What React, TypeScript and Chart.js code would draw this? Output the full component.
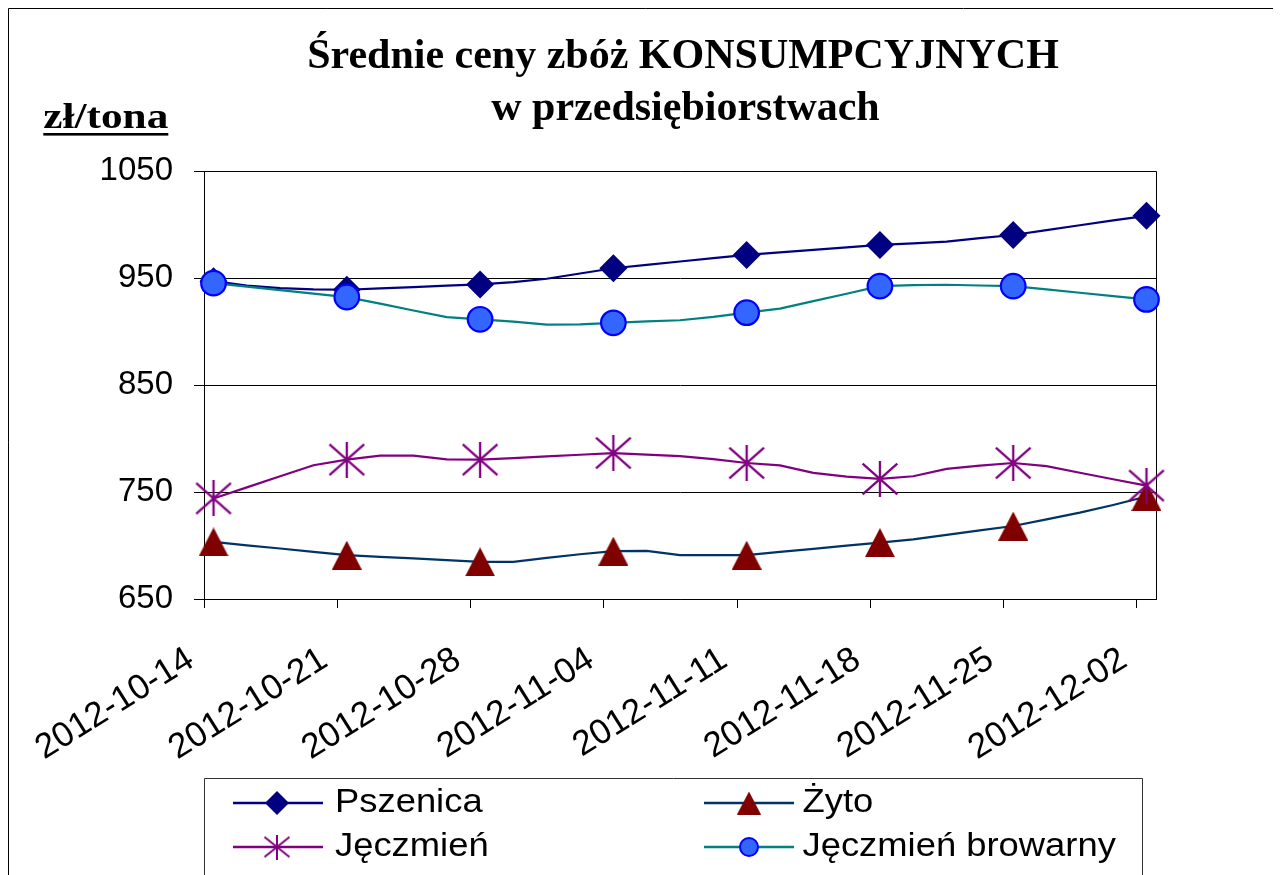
import { useEffect, useRef } from "react";
import { Chart, registerables } from "chart.js";

Chart.register(...registerables);

// ---------- data ----------
const tickDays = [0, 7, 14, 21, 28, 35, 42, 49];
const tickLabels = [
  "2012-10-14",
  "2012-10-21",
  "2012-10-28",
  "2012-11-04",
  "2012-11-11",
  "2012-11-18",
  "2012-11-25",
  "2012-12-02",
];
const yTickValues = [650, 750, 850, 950, 1050];
// line sampled four times per week (every 1.75 days); weekly points carry markers
const stepDays = 1.75;
const markerEvery = 4;

const seriesNames = ["Pszenica", "Żyto", "Jęczmień", "Jęczmień browarny"];
const pszenica = [
  947, 943, 940.5, 939.3, 939, 940.3, 941.5, 942.8, 944, 946.1, 949.3, 954.2, 959.1, 962.2, 965.4,
  968.5, 971.6, 973.9, 976.3, 978.6, 980.9, 982.4, 984, 987.2, 990.2, 994.7, 999.3, 1003.9, 1008.1,
];
const zyto = [
  703.3, 700.2, 697.2, 694.1, 691, 689.4, 687.9, 686.3, 684.7, 684.7, 688.5, 691.8, 694.7, 694.9, 691,
  691, 691, 694, 696.9, 699.9, 702.7, 705.8, 710, 714.2, 718.2, 724.4, 730.7, 737.9, 745.8,
];
const jeczmien = [
  744, 754.3, 764.7, 775, 780.2, 784, 784, 780.5, 780.2, 781.7, 783.3, 784.8, 786.4, 784.9, 783.5,
  780.7, 777.1, 774.8, 767.9, 764.4, 762.2, 764.7, 771.6, 774.7, 777.1, 774.2, 768, 761.9, 756,
];
const browarny = [
  945.2, 941.9, 938.7, 935.4, 932.2, 926.1, 919.6, 913.5, 911.4, 909.3, 906.5, 906.7, 908.1, 909.5,
  910.5, 913.7, 917.6, 921.4, 928.4, 935.3, 942.4, 943.3, 943.7, 943, 942.4, 939.3, 936.2, 933.1, 930,
];
const titleLines = ["Średnie ceny zbóż KONSUMPCYJNYCH", "w przedsiębiorstwach"];
const unitLabel = "zł/tona";

// ---------- layout / style ----------
const W = 1273;
const H = 867;
const PAD_TOP = 163;
const PLOT_H = 428;
const Y_AXIS_W = 196;
const PAD_RIGHT = 125;
const SANS = "Arial, 'Liberation Sans', sans-serif";
const SERIF = "'Times New Roman', 'Liberation Serif', serif";
const LEGEND_STRETCH = 1.07;

const C_PSZ = "#000080";
const C_ZYTO_LINE = "#003366";
const C_ZYTO_MARK = "#800000";
const C_JECZ = "#800080";
const C_BROW_LINE = "#008080";
const C_BROW_FILL = "#3366FF";
const C_BROW_BORDER = "#0000FF";

function makeTriangle(w: number, h: number, color: string) {
  const c = document.createElement("canvas");
  c.width = w;
  c.height = h;
  const g = c.getContext("2d")!;
  g.fillStyle = color;
  g.beginPath();
  g.moveTo(w / 2, 0);
  g.lineTo(w, h);
  g.lineTo(0, h);
  g.closePath();
  g.fill();
  return c;
}

function makeStar(w: number, h: number, color: string, lw: number) {
  const c = document.createElement("canvas");
  c.width = w;
  c.height = h;
  const g = c.getContext("2d")!;
  g.strokeStyle = color;
  g.lineWidth = lw;
  const p = lw / 2 + 0.5;
  g.beginPath();
  g.moveTo(w / 2, 0);
  g.lineTo(w / 2, h);
  g.moveTo(p, p + 1);
  g.lineTo(w - p, h - p - 1);
  g.moveTo(w - p, p + 1);
  g.lineTo(p, h - p - 1);
  g.stroke();
  return c;
}

function toPoints(vals: number[]) {
  return vals.map((v, i) => ({ x: 0.5 + i * stepDays, y: v }));
}

function markerRadius(r: number) {
  return (ctx: any) => (ctx.dataIndex % markerEvery === 0 ? r : 0);
}

function drawDiamond(ctx: CanvasRenderingContext2D, x: number, y: number, r: number, color: string) {
  ctx.fillStyle = color;
  ctx.beginPath();
  ctx.moveTo(x - r, y);
  ctx.lineTo(x, y - r);
  ctx.lineTo(x + r, y);
  ctx.lineTo(x, y + r);
  ctx.closePath();
  ctx.fill();
}

function drawScaledText(ctx: CanvasRenderingContext2D, text: string, x: number, y: number, sx: number) {
  ctx.save();
  ctx.translate(x, y);
  ctx.scale(sx, 1);
  ctx.textAlign = "left";
  ctx.fillText(text, 0, 0);
  ctx.restore();
}

export default function App() {
  const ref = useRef<HTMLCanvasElement>(null);

  useEffect(() => {
    const plotTri = makeTriangle(30, 29, C_ZYTO_MARK);
    const plotStar = makeStar(38, 36, C_JECZ, 2.3);
    const legTri = makeTriangle(24, 23, C_ZYTO_MARK);
    const legStar = makeStar(28, 25, C_JECZ, 2);

    const decor = {
      id: "decor",
      beforeDraw(chart: any) {
        const ctx = chart.ctx as CanvasRenderingContext2D;
        ctx.save();
        ctx.fillStyle = "#fff";
        ctx.fillRect(0, 0, W, H);
        ctx.strokeStyle = "#000";
        ctx.lineWidth = 1;
        ctx.beginPath();
        ctx.moveTo(0.5, H + 2);
        ctx.lineTo(0.5, 0.5);
        ctx.lineTo(W + 2, 0.5);
        ctx.stroke();
        ctx.restore();
      },
      beforeDatasetsDraw(chart: any) {
        const ctx = chart.ctx as CanvasRenderingContext2D;
        const a = chart.chartArea;
        const l = Math.round(a.left) + 0.5;
        const t = Math.round(a.top) + 0.5;
        const r = Math.round(a.right) + 0.5;
        const b = Math.round(a.bottom) + 0.5;
        ctx.save();
        ctx.strokeStyle = "#000";
        ctx.lineWidth = 1;
        ctx.beginPath();
        ctx.moveTo(l, t);
        ctx.lineTo(r, t);
        ctx.lineTo(r, b);
        ctx.stroke();
        ctx.restore();
      },
      afterDraw(chart: any) {
        const ctx = chart.ctx as CanvasRenderingContext2D;
        ctx.save();
        // title
        ctx.fillStyle = "#000";
        ctx.font = `bold 42px ${SERIF}`;
        ctx.textBaseline = "alphabetic";
        ctx.textAlign = "center";
        ctx.fillText(titleLines[0], 675, 60);
        ctx.fillText(titleLines[1], 677.5, 112);
        // unit label
        ctx.font = `bold 35px ${SERIF}`;
        const uw = ctx.measureText(unitLabel).width;
        drawScaledText(ctx, unitLabel, 35.3, 120.3, 125 / uw);
        ctx.fillRect(35.3, 125, 125, 2.6);

        // legend box
        ctx.strokeStyle = "#333";
        ctx.lineWidth = 1;
        ctx.beginPath();
        ctx.moveTo(196.5, H + 2);
        ctx.lineTo(196.5, 770.5);
        ctx.lineTo(1134.5, 770.5);
        ctx.lineTo(1134.5, H + 2);
        ctx.stroke();

        const cols = [
          { lx0: 225, lx1: 315, mx: 269, tx: 327 },
          { lx0: 696, lx1: 786, mx: 741, tx: 794.5 },
        ];
        const rows = [795, 839];
        const items = [
          { name: seriesNames[0], col: 0, row: 0, line: C_PSZ, kind: "diamond" },
          { name: seriesNames[1], col: 1, row: 0, line: C_ZYTO_LINE, kind: "tri" },
          { name: seriesNames[2], col: 0, row: 1, line: C_JECZ, kind: "star" },
          { name: seriesNames[3], col: 1, row: 1, line: C_BROW_LINE, kind: "circle" },
        ];
        ctx.font = `34px ${SANS}`;
        ctx.textBaseline = "middle";
        for (const it of items) {
          const c = cols[it.col];
          const y = rows[it.row];
          ctx.strokeStyle = it.line;
          ctx.lineWidth = 2.4;
          ctx.beginPath();
          ctx.moveTo(c.lx0, y);
          ctx.lineTo(c.lx1, y);
          ctx.stroke();
          if (it.kind === "diamond") drawDiamond(ctx, c.mx, y, 12, C_PSZ);
          if (it.kind === "tri") ctx.drawImage(legTri, c.mx - legTri.width / 2, y - legTri.height / 2);
          if (it.kind === "star") ctx.drawImage(legStar, c.mx - legStar.width / 2, y - legStar.height / 2);
          if (it.kind === "circle") {
            ctx.fillStyle = C_BROW_FILL;
            ctx.strokeStyle = C_BROW_BORDER;
            ctx.lineWidth = 2;
            ctx.beginPath();
            ctx.arc(c.mx, y, 9, 0, Math.PI * 2);
            ctx.fill();
            ctx.stroke();
          }
          ctx.fillStyle = "#000";
          drawScaledText(ctx, it.name, c.tx, y, LEGEND_STRETCH);
        }
        ctx.restore();
      },
    };

    const chart = new Chart(ref.current!, {
      type: "line",
      data: {
        datasets: [
          {
            label: seriesNames[0],
            data: toPoints(pszenica),
            borderColor: C_PSZ,
            borderWidth: 2.2,
            pointStyle: "rectRot",
            pointRadius: markerRadius(14),
            pointHoverRadius: markerRadius(14),
            pointBackgroundColor: C_PSZ,
            pointBorderColor: C_PSZ,
            pointBorderWidth: 0,
            tension: 0,
            clip: false,
            order: 4,
          },
          {
            label: seriesNames[1],
            data: toPoints(zyto),
            borderColor: C_ZYTO_LINE,
            borderWidth: 2.2,
            pointStyle: plotTri,
            pointRadius: markerRadius(15),
            pointHoverRadius: markerRadius(15),
            tension: 0,
            clip: false,
            order: 3,
          },
          {
            label: seriesNames[2],
            data: toPoints(jeczmien),
            borderColor: C_JECZ,
            borderWidth: 2.2,
            pointStyle: plotStar,
            pointRadius: markerRadius(18),
            pointHoverRadius: markerRadius(18),
            tension: 0,
            clip: false,
            order: 2,
          },
          {
            label: seriesNames[3],
            data: toPoints(browarny),
            borderColor: C_BROW_LINE,
            borderWidth: 2.2,
            pointStyle: "circle",
            pointRadius: markerRadius(12.3),
            pointHoverRadius: markerRadius(12.3),
            pointBackgroundColor: C_BROW_FILL,
            pointBorderColor: C_BROW_BORDER,
            pointBorderWidth: 2.2,
            tension: 0,
            clip: false,
            order: 1,
          },
        ] as any,
      },
      options: {
        responsive: false,
        animation: false,
        devicePixelRatio: 1,
        events: [],
        layout: { padding: { top: PAD_TOP, left: 0, right: PAD_RIGHT, bottom: 0 } },
        plugins: {
          legend: { display: false },
          title: { display: false },
          tooltip: { enabled: false },
        },
        scales: {
          x: {
            type: "linear",
            min: 0,
            max: 50,
            afterBuildTicks: (axis: any) => {
              axis.ticks = tickDays.map((v) => ({ value: v }));
            },
            afterFit: (axis: any) => {
              axis.height = H - PAD_TOP - PLOT_H;
            },
            grid: { drawOnChartArea: false, color: "#000", tickLength: 9, lineWidth: 1 },
            border: { color: "#000", width: 1 },
            ticks: {
              autoSkip: false,
              minRotation: 32,
              maxRotation: 32,
              padding: 31,
              labelOffset: -13,
              color: "#000",
              font: { family: SANS, size: 35 },
              callback: (_v: any, i: number) => tickLabels[i],
            },
          },
          y: {
            type: "linear",
            min: yTickValues[0],
            max: yTickValues[yTickValues.length - 1],
            afterBuildTicks: (axis: any) => {
              axis.ticks = yTickValues.map((v) => ({ value: v }));
            },
            afterFit: (axis: any) => {
              axis.width = Y_AXIS_W;
            },
            grid: { color: "#000", tickLength: 10, lineWidth: 1 },
            border: { color: "#000", width: 1 },
            ticks: {
              padding: 21,
              color: "#000",
              font: { family: SANS, size: 33 },
              callback: (v: any) => String(v),
            },
          },
        },
      } as any,
      plugins: [decor as any],
    });
    return () => chart.destroy();
  }, []);

  return (
    <canvas
      ref={ref}
      width={W}
      height={H}
      style={{ display: "block", width: W, height: H }}
    />
  );
}
